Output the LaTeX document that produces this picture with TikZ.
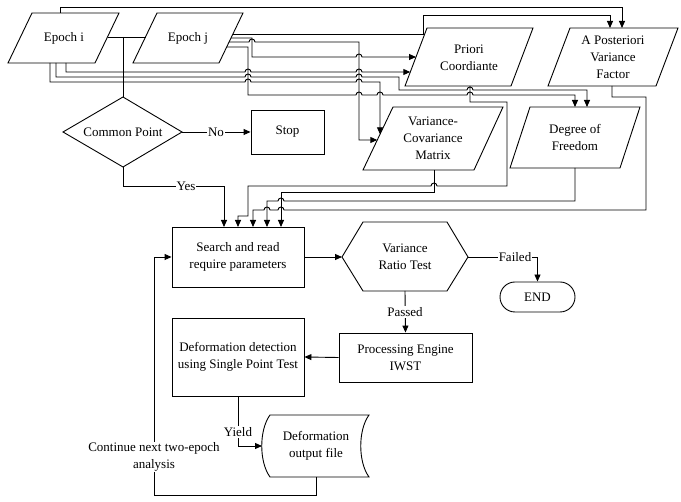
\documentclass[tikz,border=0pt]{standalone}
\usepackage{fontspec}
\setmainfont{Liberation Serif}
\usetikzlibrary{arrows.meta}
\begin{document}
\begin{tikzpicture}[x=1pt,y=-1pt,
  ln/.style={line width=0.9pt, draw=black},
  arr/.style={ln, -{Triangle[length=7pt,width=6pt]}},
  txt/.style={font=\fontsize{13}{17}\selectfont, align=center, inner sep=0pt},
  lbl/.style={font=\fontsize{13}{17}\selectfont, align=center, fill=white, inner sep=1pt},
  box/.style={ln, rectangle, inner sep=0pt, font=\fontsize{13}{17}\selectfont, align=center}]
\useasboundingbox (0,0) rectangle (681,502);

% ---------- shapes ----------
\draw[ln] (32,13) -- (119,13) -- (95,63) -- (8,63) -- cycle;
\node[txt] (ei) at (64,38) {Epoch i};
\draw[ln] (157,13) -- (243,13) -- (219,63) -- (133,63) -- cycle;
\node[txt] (ej) at (188,38) {Epoch j};

\draw[ln] (427,28) -- (533,28) -- (511,86) -- (405,86) -- cycle;
\node[txt] (pc) at (469,58) {Priori\\Coordiante};
\draw[ln] (570,28) -- (678,28) -- (656,86) -- (548,86) -- cycle;
\node[txt] (ap) at (613,57) {A Posteriori\\Variance\\Factor};
\draw[ln] (393,107) -- (503,107) -- (474,170) -- (363,170) -- cycle;
\node[txt] (vc) at (433,138) {Variance-\\Covariance\\Matrix};
\draw[ln] (530,107) -- (640,107) -- (620,168) -- (510,168) -- cycle;
\node[txt] (df) at (575,137) {Degree of\\Freedom};

\draw[ln] (123,97) -- (182,132) -- (123,167) -- (63,132) -- cycle;
\node[txt] (cp) at (123,132) {Common Point};
\node[box, minimum width=73pt, minimum height=44pt] (stop) at (287.5,132) {Stop};

\node[box, minimum width=132pt, minimum height=60pt] (sr) at (238,257) {Search and read\\require parameters};
\draw[ln] (342,257) -- (363,222) -- (447,222) -- (468,257) -- (447,291) -- (363,291) -- cycle;
\node[txt] (hx) at (405,257) {Variance\\Ratio Test};
\node[box, rounded corners=15pt, minimum width=75pt, minimum height=30pt] (endn) at (537.5,297) {END};
\node[box, minimum width=133pt, minimum height=49pt] (pe) at (405.5,357.5) {Processing Engine\\IWST};
\node[box, minimum width=132pt, minimum height=78pt] (dd) at (238,357) {Deformation detection\\using Single Point Test};
\draw[ln] (270,415) -- (369,415) .. controls (358,430) and (358,462) .. (369,477)
  -- (270,477) .. controls (259,462) and (259,430) .. (270,415) -- cycle;
\node[txt] (of) at (316,446) {Deformation\\output file};

% ---------- ports ----------
\coordinate (eiR) at (107.5,37);
\coordinate (ejL) at (145.5,37);
\coordinate (cpT) at (123,97);
\coordinate (cpS) at (123,167);
\coordinate (cpE) at (182,132);
\coordinate (eiA) at (60,13);
\coordinate (eiP) at (66,63);
\coordinate (eiD) at (56,63);
\coordinate (eiV) at (50,63);
\coordinate (ejA) at (233,34);
\coordinate (ejP) at (231,38);
\coordinate (ejV) at (229,42);
\coordinate (ejD) at (226.7,47);
\coordinate (pcA) at (416,57);
\coordinate (pcB) at (410.3,72);
\coordinate (pcO) at (470,86);
\coordinate (apA) at (610,28);
\coordinate (apB) at (622,28);
\coordinate (apO) at (612,86);
\coordinate (vcA) at (377.3,140);
\coordinate (vcB) at (380,134.3);
\coordinate (vcO) at (434,170);
\coordinate (dfA) at (575,107);
\coordinate (dfB) at (587,107);
\coordinate (dfO) at (575,168);
\coordinate (srA) at (238,227);
\coordinate (srB) at (281,227);
\coordinate (srC) at (267,227);
\coordinate (srD) at (253,227);
\coordinate (srE) at (224,227);
\coordinate (hxL) at (342,257);
\coordinate (hxR) at (468,257);
\coordinate (hxB) at (405,291);
\coordinate (ofL) at (262,446);
\coordinate (ofB) at (316,477);

% ---------- connectors: epochs ----------
\draw[ln] (eiR) -- (ejL);
\draw[ln] (123,37) -- (cpT);
\draw[arr] (eiA) -- (60,7) -- (622,7) -- (apB);
\draw[arr] (ejA) -- (423,34) -- (423,15) -- (610,15) -- (apA);
\draw[arr] (ejP) -- (252,38) -- (252,57) -- (356,57) arc[start angle=180,end angle=0,radius=3pt] -- (pcA);
\draw[arr] (ejV) -- (249,42) arc[start angle=180,end angle=0,radius=3pt] -- (359,42) -- (359,140) -- (vcA);
\draw[arr] (ejD) -- (248,47) -- (248,95) -- (356,95) arc[start angle=180,end angle=0,radius=3pt]
  -- (377,95) arc[start angle=180,end angle=0,radius=3pt]
  -- (467,95) arc[start angle=180,end angle=0,radius=3pt] -- (575,95) -- (dfA);
\draw[arr] (eiP) -- (66,72) -- (245,72) arc[start angle=180,end angle=0,radius=3pt]
  -- (356,72) arc[start angle=180,end angle=0,radius=3pt] -- (pcB);
\draw[arr] (eiD) -- (56,77) -- (245,77) arc[start angle=180,end angle=0,radius=3pt]
  -- (356,77) arc[start angle=180,end angle=0,radius=3pt] -- (399,77) -- (399,90)
  -- (467,90) arc[start angle=180,end angle=0,radius=3pt] -- (587,90) -- (dfB);
\draw[arr] (eiV) -- (50,82) -- (245,82) arc[start angle=180,end angle=0,radius=3pt]
  -- (356,82) arc[start angle=180,end angle=0,radius=3pt] -- (380,82) -- (vcB);

% ---------- connectors: parameters to search ----------
\draw[arr] (pcO) -- (470,102) -- (507,102) -- (507,186) -- (437,186) arc[start angle=0,end angle=180,radius=3pt]
  -- (248,186) -- (248,216) -- (238,216) -- (srA);
\draw[arr] (vcO) -- (434,192) -- (281,192) -- (srB);
\draw[arr] (dfO) -- (575,201) -- (284,201) arc[start angle=0,end angle=180,radius=3pt] -- (267,201) -- (srC);
\draw[arr] (apO) -- (612,97) -- (646,97) -- (646,210) -- (284,210) arc[start angle=0,end angle=180,radius=3pt]
  -- (270,210) arc[start angle=0,end angle=180,radius=3pt] -- (253,210) -- (srD);
\draw[arr] (cpS) -- (123,186) -- (224,186) -- (srE);
\draw[arr] (cpE) -- (stop.west);

% ---------- lower flow ----------
\draw[arr] (sr.east) -- (hxL);
\draw[arr] (hxR) -- (537.5,257) -- (endn.north);
\draw[arr] (hxB) -- (pe.north);
\draw[arr] (pe.west) -- (dd.east);
\draw[arr] (dd.south) -- (238,446) -- (ofL);
\draw[arr] (ofB) -- (316,495) -- (154,495) -- (154,257) -- (sr.west);

% ---------- labels ----------
\node[lbl] (lno) at (216,132) {No};
\node[lbl] (lyes) at (186,186) {Yes};
\node[lbl] (lfail) at (515,257) {Failed};
\node[lbl] (lpass) at (405,312) {Passed};
\node[lbl] (lyield) at (238,432) {Yield};
\node[lbl] (lcont) at (154,457) {Continue next two-epoch\\analysis};
\end{tikzpicture}
\end{document}
